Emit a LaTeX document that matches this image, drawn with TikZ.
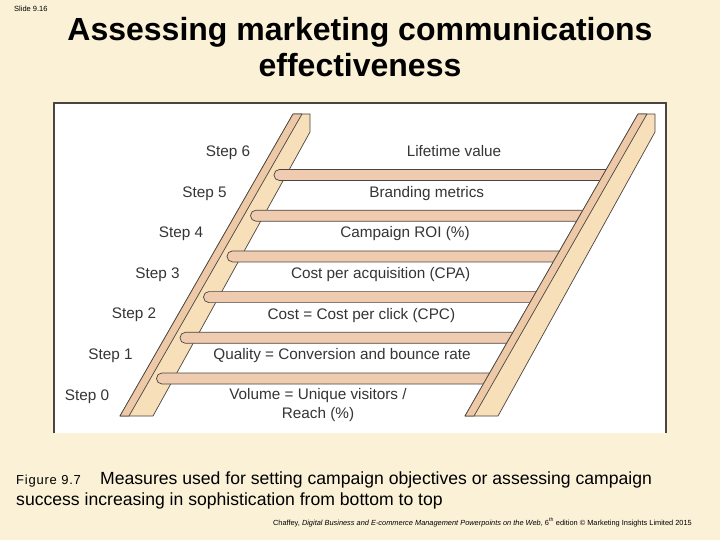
\documentclass[tikz,border=0pt]{standalone}
\usepackage{fontspec}
\setmainfont{Liberation Sans}
\usetikzlibrary{positioning}
\definecolor{slidebg}{HTML}{FAF1D7}
\definecolor{railtan}{HTML}{F6DFB9}
\definecolor{railpeach}{HTML}{EEC9A7}
\definecolor{rungpeach}{HTML}{EFCCAF}
\definecolor{inkgray}{HTML}{4A4540}
\definecolor{textgray}{HTML}{353535}
\newcommand{\drawRail}[1]{\begin{scope}[shift={(#1,0)}]
  \filldraw[railbody] (120,416) -- (293,114) -- (310,114) -- (310,132) -- (153,416) -- cycle;
  \filldraw[railedge] (120,416) -- (293,114) -- (302,114) -- (129,416) -- cycle;
  \end{scope}}
\newcommand{\drawRung}[2]{\filldraw[rung] ({#1+340},{#2-5.5}) -- (#1,{#2-5.5}) -- (#1,{#2+5.5}) -- ({#1+340},{#2+5.5});}
\tikzset{
    railbody/.style={fill=railtan,draw=inkgray,line width=0.7pt,line join=round},
    railedge/.style={fill=railpeach,draw=inkgray,line width=0.7pt,line join=round},
    rung/.style={fill=rungpeach,draw=inkgray,line width=0.7pt,rounded corners=5.4pt},
    panelline/.style={draw=inkgray,line width=1.4pt},
    steplabel/.style={inner sep=0pt,text height=11pt,text depth=0pt,text=textgray,font=\fontsize{15.3}{18.6}\selectfont},
    metric/.style={inner sep=0pt,text height=11pt,text depth=0pt,text=textgray,font=\fontsize{15.3}{18.6}\selectfont},
    heading/.style={inner sep=0pt,font=\fontsize{32}{36}\selectfont\bfseries},
    slidetag/.style={inner sep=0pt,font=\fontsize{7.5}{9}\selectfont},
    figtag/.style={inner sep=0pt,font=\fontsize{13}{15}\selectfont\addfontfeatures{LetterSpace=6}},
    captiontext/.style={inner sep=0pt,font=\fontsize{17.6}{21}\selectfont},
    credit/.style={inner sep=0pt,font=\fontsize{7.4}{9}\selectfont}}

\begin{document}
\begin{tikzpicture}
[x=1pt,y=-1pt,node distance=40.6pt and 23.5pt,on grid]
\useasboundingbox (0,0) rectangle (720,540);
\fill[slidebg] (0,0) rectangle (720,540);
% heading
\node[slidetag,anchor=west] (slide) at (14,9) {Slide 9.16};
\node[heading,anchor=base] (head1) at (360,41) {Assessing marketing communications};
\node[heading,anchor=base] (head2) at (360,77) {effectiveness};
% the ladder
\fill[white] (54,103) rectangle (666,433);
\draw[panelline] (54,433) -- (54,103) -- (666,103) -- (666,433);
\drawRail{0}
\drawRung{274}{175}
\drawRung{250.5}{215.7}
\drawRung{227}{256.4}
\drawRung{203.5}{297.1}
\drawRung{180}{337.8}
\drawRung{156.5}{378.5}
\drawRail{345}
\node[steplabel] (s6)  at (228,151)  {Step 6};
\node[steplabel] (s5)  [below left=of s6] {Step 5};
\node[steplabel] (s4)  [below left=of s5] {Step 4};
\node[steplabel] (s3)  [below left=of s4] {Step 3};
\node[steplabel] (s2)  [below left=of s3] {Step 2};
\node[steplabel] (s1)  [below left=of s2] {Step 1};
\node[steplabel] (s0)  [below left=of s1] {Step 0};
\node[metric] (m6) at (454,151)   {Lifetime value};
\node[metric] (m5) at (426.7,191.5) {Branding metrics};
\node[metric] (m4) at (405,232.2) {Campaign ROI (\%)};
\node[metric] (m3) at (380.6,272.8) {Cost per acquisition (CPA)};
\node[metric] (m2) at (361.4,313.5) {Cost = Cost per click (CPC)};
\node[metric] (m1) at (342,354.2) {Quality = Conversion and bounce rate};
\node[metric,align=center,text height=,text depth=] (m0) at (318,405) {Volume = Unique visitors /\\Reach (\%)};
% caption
\node[figtag,anchor=base west] (fig) at (16,484) {Figure 9.7};
\node[captiontext,anchor=base west] (cap1) at (100,484) {Measures used for setting campaign objectives or assessing campaign};
\node[captiontext,anchor=base west] (cap2) at (16,505) {success increasing in sophistication from bottom to top};
\node[credit,anchor=base east] (credit) at (692,525) {Chaffey, \textit{Digital Business and E-commerce Management Powerpoints on the Web,} 6\textsuperscript{th} edition \textcopyright\ Marketing Insights Limited 2015};
\end{tikzpicture}
\end{document}
